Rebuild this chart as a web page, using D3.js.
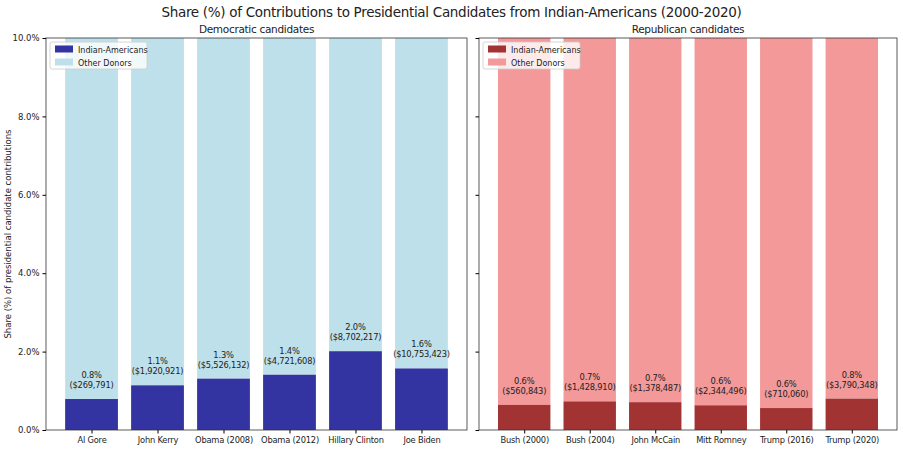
<!DOCTYPE html>
<html>
<head>
<meta charset="utf-8">
<script src="https://cdn.jsdelivr.net/npm/d3@7"></script>
<style>
  body { margin: 0; background: #fff; }
  text { font-family: 'DejaVu Sans', sans-serif; fill: #222; }
</style>
</head>
<body>
<div id="chart"></div>
<script>
// data
var demNames = ['Al Gore', 'John Kerry', 'Obama (2008)', 'Obama (2012)', 'Hillary Clinton', 'Joe Biden']
var demShare = [0.79, 1.14, 1.31, 1.41, 2.01, 1.57]
var demAmount = [269791, 1920921, 5526132, 4721608, 8702217, 10753423]

var repNames = ['Bush (2000)', 'Bush (2004)', 'John McCain', 'Mitt Romney', 'Trump (2016)', 'Trump (2020)']
var repShare = [0.64, 0.73, 0.71, 0.63, 0.56, 0.8]
var repAmount = [560843, 1428910, 1378487, 2344496, 710060, 3790348]

var yTicks = [0, 2, 4, 6, 8, 10]

var width = 903
var height = 449
var plotTop = 38
var plotBottom = 430

var svg = d3
  .select('#chart')
  .append('svg')
  .attr('width', width)
  .attr('height', height)

svg
  .append('text')
  .attr('x', width / 2)
  .attr('y', 17)
  .attr('text-anchor', 'middle')
  .attr('font-size', 13.5)
  .attr('letter-spacing', -0.3)
  .text('Share (%) of Contributions to Presidential Candidates from Indian-Americans (2000-2020)')

svg
  .append('text')
  .attr('transform', 'translate(11,' + (plotTop + plotBottom) / 2 + ') rotate(-90)')
  .attr('text-anchor', 'middle')
  .attr('font-size', 8.5)
  .text('Share (%) of presidential candidate contributions')

var yScale = d3.scaleLinear().domain([0, 10]).range([plotBottom, plotTop])

var money = d3.format(',')
var pct = d3.format('.1f')

function panel(opts) {
  var g = svg.append('g')
  var n = opts.names.length
  // matplotlib style 5% margins around the bars
  var pad = 0.05 * (n - 0.2)
  var xScale = d3
    .scaleLinear()
    .domain([-0.4 - pad, n - 0.6 + pad])
    .range([opts.x0, opts.x1])
  var bw = xScale(0.8) - xScale(0)

  var clipId = 'clip-' + opts.id
  svg
    .append('clipPath')
    .attr('id', clipId)
    .append('rect')
    .attr('x', opts.x0)
    .attr('y', plotTop)
    .attr('width', opts.x1 - opts.x0)
    .attr('height', plotBottom - plotTop)

  var bars = g.append('g').attr('clip-path', 'url(#' + clipId + ')')

  // other donors, stacked up to 100%
  bars
    .selectAll('.other')
    .data(opts.share)
    .enter()
    .append('rect')
    .attr('class', 'other')
    .attr('x', (d, i) => xScale(i) - bw / 2)
    .attr('width', bw)
    .attr('y', d => yScale(100))
    .attr('height', d => yScale(d) - yScale(100))
    .attr('fill', opts.light)

  bars
    .selectAll('.indian')
    .data(opts.share)
    .enter()
    .append('rect')
    .attr('class', 'indian')
    .attr('x', (d, i) => xScale(i) - bw / 2)
    .attr('width', bw)
    .attr('y', d => yScale(d))
    .attr('height', d => yScale(0) - yScale(d))
    .attr('fill', opts.dark)

  // value labels
  var labels = g
    .selectAll('.val')
    .data(opts.share)
    .enter()
    .append('text')
    .attr('class', 'val')
    .attr('text-anchor', 'middle')
    .attr('font-size', 8.3)
    .attr('letter-spacing', -0.2)
  labels
    .append('tspan')
    .attr('x', (d, i) => xScale(i))
    .attr('y', d => yScale(d) - 21)
    .text(d => pct(d) + '%')
  labels
    .append('tspan')
    .attr('x', (d, i) => xScale(i))
    .attr('y', d => yScale(d) - 11)
    .text((d, i) => '($' + money(opts.amount[i]) + ')')

  // frame
  g.append('rect')
    .attr('x', opts.x0)
    .attr('y', plotTop)
    .attr('width', opts.x1 - opts.x0)
    .attr('height', plotBottom - plotTop)
    .attr('fill', 'none')
    .attr('stroke', '#333')
    .attr('stroke-width', 0.8)

  // x axis
  var xa = g
    .append('g')
    .attr('transform', 'translate(0,' + plotBottom + ')')
    .call(
      d3
        .axisBottom(xScale)
        .tickValues(d3.range(n))
        .tickFormat(i => opts.names[i])
        .tickSize(3.5)
        .tickPadding(3.5)
    )
  xa.select('.domain').remove()
  xa.selectAll('text')
    .attr('font-size', 8.3)
    .attr('letter-spacing', -0.2)
    .attr('font-family', 'DejaVu Sans')

  // y axis
  var ya = g
    .append('g')
    .attr('transform', 'translate(' + opts.x0 + ',0)')
    .call(
      d3
        .axisLeft(yScale)
        .tickValues(yTicks)
        .tickFormat(d => (opts.labels ? pct(d) + '%' : ''))
        .tickSize(3.5)
        .tickPadding(3)
    )
  ya.select('.domain').remove()
  ya.selectAll('text').attr('font-size', 8.5).attr('font-family', 'DejaVu Sans')

  // subtitle
  g.append('text')
    .attr('x', (opts.x0 + opts.x1) / 2)
    .attr('y', 33)
    .attr('text-anchor', 'middle')
    .attr('font-size', 10.5)
    .attr('letter-spacing', -0.3)
    .text(opts.title)

  // legend
  var lg = g.append('g').attr('transform', 'translate(' + (opts.x0 + 4) + ',' + (plotTop + 4) + ')')
  lg.append('rect')
    .attr('width', 97)
    .attr('height', 27)
    .attr('rx', 2)
    .attr('fill', 'rgba(255,255,255,0.8)')
    .attr('stroke', '#ccc')
    .attr('stroke-width', 0.8)
  var items = [['Indian-Americans', opts.dark], ['Other Donors', opts.light]]
  items.forEach((it, i) => {
    lg.append('rect')
      .attr('x', 5)
      .attr('y', 3.5 + i * 13)
      .attr('width', 18)
      .attr('height', 7)
      .attr('fill', it[1])
    lg.append('text')
      .attr('x', 28)
      .attr('y', 10.5 + i * 13)
      .attr('font-size', 8)
      .text(it[0])
  })
}

panel({
  id: 'dem',
  x0: 46,
  x1: 467,
  names: demNames,
  share: demShare,
  amount: demAmount,
  dark: 'rgb(51,51,162)',
  light: 'rgb(189,224,235)',
  title: 'Democratic candidates',
  labels: true
})

panel({
  id: 'rep',
  x0: 479,
  x1: 897,
  names: repNames,
  share: repShare,
  amount: repAmount,
  dark: 'rgb(162,51,51)',
  light: 'rgb(243,153,153)',
  title: 'Republican candidates',
  labels: false
})
</script>
</body>
</html>
